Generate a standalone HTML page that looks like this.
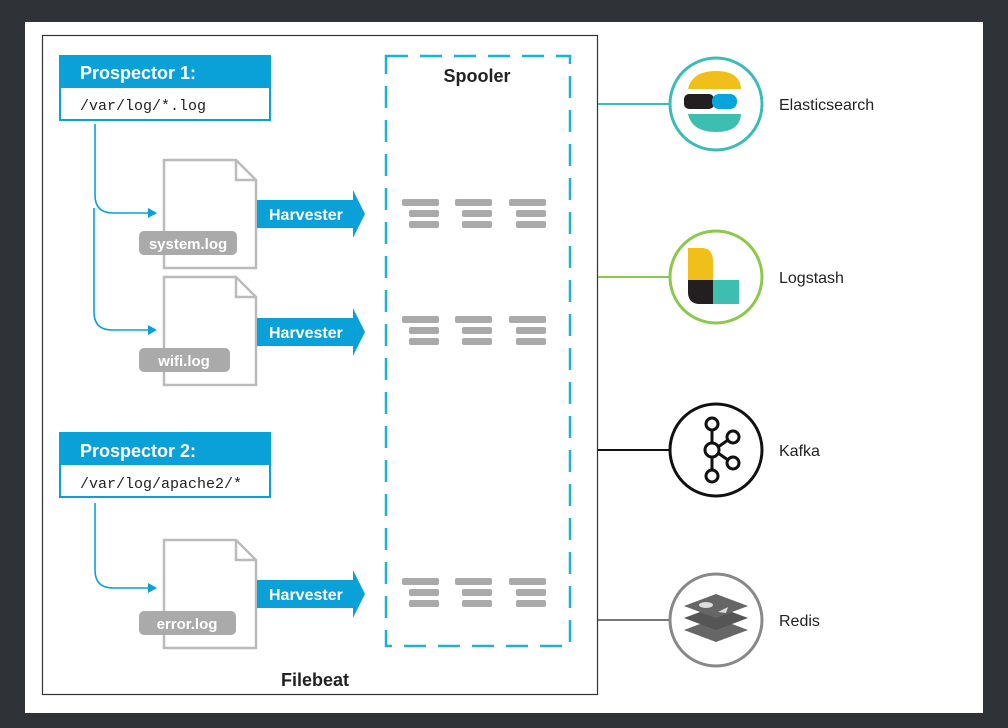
<!DOCTYPE html>
<html><head><style>
html,body{margin:0;padding:0;background:#2f3237;}
svg{display:block;}
text{font-family:"Liberation Sans",sans-serif;}
text.mono{font-family:"Liberation Mono",monospace;}
</style></head><body>
<svg width="1008" height="728" viewBox="0 0 1008 728" xmlns="http://www.w3.org/2000/svg">
<rect x="25" y="22" width="958" height="691" fill="#fff"/>
<rect x="42.5" y="35.5" width="555" height="659" fill="none" stroke="#333" stroke-width="1.2"/>
<defs>
<g id="stk">
<rect x="0" y="0" width="37" height="7" rx="2" fill="#aaa"/>
<rect x="7" y="11" width="30" height="7" rx="2" fill="#aaa"/>
<rect x="7" y="22" width="30" height="7" rx="2" fill="#aaa"/>
</g>
<g id="harv">
<polygon points="0,-14 96,-14 96,-24 108,0 96,24 96,14 0,14" fill="#0aa0d8"/>
<text x="12" y="6" font-size="16" font-weight="bold" fill="#fff">Harvester</text>
</g>
<path id="doc" d="M0,0 H72 L92,20 V108 H0 Z M72,0 V20 H92" fill="#fff" stroke="#bbb" stroke-width="2.5"/>
</defs>
<!-- Prospector 1 -->
<rect x="60" y="56" width="210" height="64" fill="#fff" stroke="#0aa0d8" stroke-width="2"/>
<rect x="60" y="56" width="210" height="32" fill="#0aa0d8"/>
<text x="80" y="79" font-size="18" font-weight="bold" fill="#fff">Prospector 1:</text>
<text class="mono" x="80" y="110" font-size="15" fill="#222">/var/log/*.log</text>
<!-- Prospector 2 -->
<rect x="60" y="433" width="210" height="64" fill="#fff" stroke="#0aa0d8" stroke-width="2"/>
<rect x="60" y="433" width="210" height="32" fill="#0aa0d8"/>
<text x="80" y="457" font-size="18" font-weight="bold" fill="#fff">Prospector 2:</text>
<text class="mono" x="80" y="488" font-size="15" fill="#222">/var/log/apache2/*</text>
<!-- connectors -->
<g fill="none" stroke="#0aa0d8" stroke-width="1.6">
<path d="M95,124 V195 Q95,213 113,213 H150"/>
<path d="M94,208 V312 Q94,330 112,330 H150"/>
<path d="M95,503 V570 Q95,588 113,588 H150"/>
</g>
<g fill="#0aa0d8">
<polygon points="157,213 148,208 148,218"/>
<polygon points="157,330 148,325 148,335"/>
<polygon points="157,588 148,583 148,593"/>
</g>
<!-- docs -->
<use href="#doc" x="164" y="160"/>
<use href="#doc" x="164" y="277"/>
<use href="#doc" x="164" y="540"/>
<rect x="139" y="231" width="98" height="24" rx="5" fill="#aaa"/>
<text x="188" y="249" font-size="15" font-weight="bold" fill="#fff" text-anchor="middle">system.log</text>
<rect x="139" y="348" width="91" height="24" rx="5" fill="#aaa"/>
<text x="184" y="366" font-size="15" font-weight="bold" fill="#fff" text-anchor="middle">wifi.log</text>
<rect x="139" y="611" width="97" height="24" rx="5" fill="#aaa"/>
<text x="187" y="629" font-size="15" font-weight="bold" fill="#fff" text-anchor="middle">error.log</text>
<use href="#harv" x="257" y="214"/>
<use href="#harv" x="257" y="332"/>
<use href="#harv" x="257" y="594"/>
<!-- spooler -->
<rect x="386" y="56" width="184" height="590" fill="none" stroke="#1ab3d6" stroke-width="2.5" stroke-dasharray="22 12"/>
<text x="477" y="82" font-size="18" font-weight="bold" fill="#222" text-anchor="middle">Spooler</text>
<use href="#stk" x="402" y="199"/><use href="#stk" x="455" y="199"/><use href="#stk" x="509" y="199"/>
<use href="#stk" x="402" y="316"/><use href="#stk" x="455" y="316"/><use href="#stk" x="509" y="316"/>
<use href="#stk" x="402" y="578"/><use href="#stk" x="455" y="578"/><use href="#stk" x="509" y="578"/>
<text x="315" y="686" font-size="18" font-weight="bold" fill="#222" text-anchor="middle">Filebeat</text>
<!-- outputs -->
<line x1="598" y1="104" x2="670" y2="104" stroke="#3bbcb7" stroke-width="2"/>
<line x1="598" y1="277" x2="670" y2="277" stroke="#8cc84b" stroke-width="2"/>
<line x1="598" y1="450" x2="670" y2="450" stroke="#111" stroke-width="2"/>
<line x1="598" y1="620" x2="670" y2="620" stroke="#777" stroke-width="2"/>
<circle cx="716" cy="104" r="46" fill="#fff" stroke="#3bbcb7" stroke-width="3"/>
<circle cx="716" cy="277" r="46" fill="#fff" stroke="#8cc84b" stroke-width="3"/>
<circle cx="716" cy="450" r="46" fill="#fff" stroke="#111" stroke-width="3"/>
<circle cx="716" cy="620" r="46" fill="#fff" stroke="#888" stroke-width="3"/>
<!-- elastic -->
<path d="M688,89 Q692,71 716,71 Q740,71 741,89 Z" fill="#f0bf1a"/>
<rect x="684" y="94" width="30" height="15" rx="5" fill="#231f20"/>
<rect x="712" y="94" width="25" height="15" rx="7" fill="#07a5de"/>
<path d="M688,114 H741 Q740,132 716,132 Q692,132 688,114 Z" fill="#3ebeb0"/>
<!-- logstash -->
<path d="M688,248 H702 Q713,248 713,262 V280 H688 Z" fill="#f0bf1a"/>
<path d="M688,280 H713 V304 H700 Q688,304 688,292 Z" fill="#231f20"/>
<rect x="713" y="280" width="26" height="24" fill="#3ebeb0"/>
<!-- kafka -->
<g fill="none" stroke="#111" stroke-width="3">
<circle cx="712" cy="424" r="6"/><circle cx="712" cy="450" r="7"/><circle cx="712" cy="476" r="6"/>
<circle cx="733" cy="437" r="6"/><circle cx="733" cy="463" r="6"/>
<line x1="712" y1="430" x2="712" y2="443"/><line x1="712" y1="457" x2="712" y2="470"/>
<line x1="718" y1="447" x2="728" y2="440"/><line x1="718" y1="453" x2="728" y2="460"/>
</g>
<!-- redis -->
<g>
<path d="M684,630 L716,618 L748,630 L716,642 Z" fill="#666"/>
<path d="M684,618 L716,606 L748,618 L716,630 Z" fill="#555"/>
<path d="M684,606 L716,594 L748,606 L716,618 Z" fill="#666"/>
<ellipse cx="706" cy="605" rx="7" ry="3" fill="#ddd"/>
<polygon points="718,612 728,607 726,613" fill="#ddd"/>
</g>
<g font-size="16" fill="#222">
<text x="779" y="110">Elasticsearch</text>
<text x="779" y="283">Logstash</text>
<text x="779" y="456">Kafka</text>
<text x="779" y="626">Redis</text>
</g>
</svg>
</body></html>
